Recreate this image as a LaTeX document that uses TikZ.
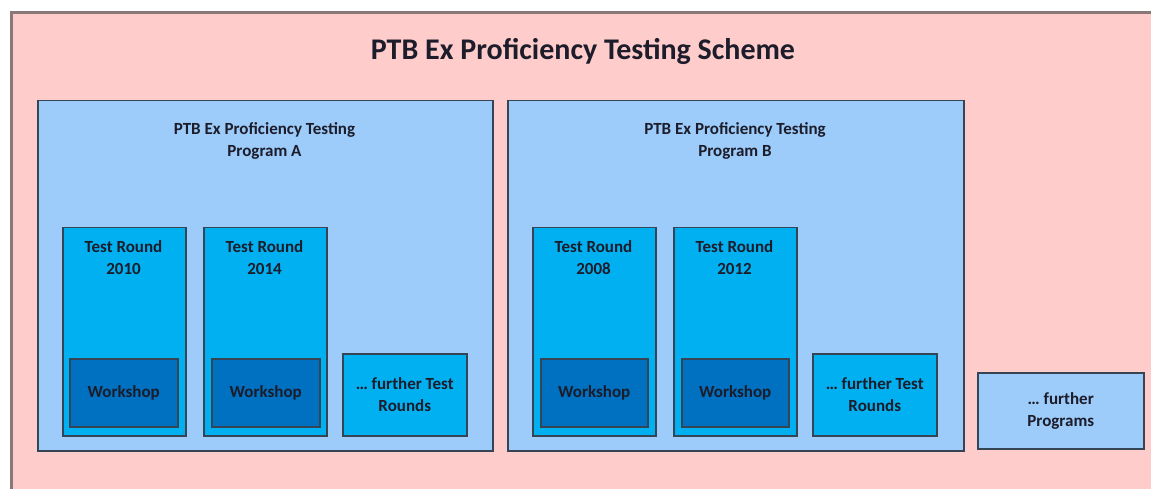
\documentclass[tikz,border=0pt]{standalone}
\usepackage{fontspec}
\setmainfont{Carlito}
\definecolor{bgpink}{HTML}{FFCCCC}
\definecolor{framecol}{HTML}{8A7878}
\definecolor{progblue}{HTML}{9DCCFA}
\definecolor{roundblue}{HTML}{00B0F0}
\definecolor{workblue}{HTML}{0070C0}
\definecolor{edgecol}{HTML}{354555}
\definecolor{txtcol}{HTML}{1C1C2A}
\tikzset{
  box/.style={draw=edgecol, line width=1.5pt, anchor=north west, inner sep=0pt},
  progbox/.style={box, fill=progblue},
  roundbox/.style={box, fill=roundblue},
  workbox/.style={box, fill=workblue},
  lbl/.style={text=txtcol, font=\bfseries\fontsize{17}{21.5}\selectfont, align=center, inner sep=0pt},
}
\begin{document}
\begin{tikzpicture}[x=1pt,y=-1pt]
\useasboundingbox (0,0) rectangle (1151,489);
\clip (0,0) rectangle (1151,489);
\node[draw=framecol, line width=3pt, fill=bgpink, anchor=north west, minimum width=1160pt, minimum height=490pt, inner sep=0pt] (scheme) at (9.5,11) {};
\node[text=txtcol, font=\bfseries\fontsize{30}{36}\selectfont, inner sep=0pt] (title) at (583,51) {PTB Ex Proficiency Testing Scheme};

% Program A
\node[progbox, minimum width=455pt, minimum height=350pt] (progA) at (37,100) {};
\node[lbl] (progAlbl) at (264.5,141) {PTB Ex Proficiency Testing\\Program A};
\node[roundbox, minimum width=123pt, minimum height=208pt] (tr2010) at (62,227) {};
\node[lbl] (tr2010lbl) at (123.5,257.5) {Test Round\\2010};
\node[workbox, minimum width=108pt, minimum height=68pt] (ws2010) at (69,358) {};
\node[lbl] at (ws2010.center) {Workshop};
\node[roundbox, minimum width=123pt, minimum height=208pt] (tr2014) at (203,227) {};
\node[lbl] (tr2014lbl) at (264.5,257.5) {Test Round\\2014};
\node[workbox, minimum width=108pt, minimum height=68pt] (ws2014) at (211,358) {};
\node[lbl] at (ws2014.center) {Workshop};
\node[roundbox, minimum width=124pt, minimum height=82pt] (furtherA) at (342,353) {};
\node[lbl] at (furtherA.center) {\dots\ further Test\\Rounds};

% Program B
\node[progbox, minimum width=456pt, minimum height=350pt] (progB) at (507,100) {};
\node[lbl] (progBlbl) at (735,141) {PTB Ex Proficiency Testing\\Program B};
\node[roundbox, minimum width=123pt, minimum height=208pt] (tr2008) at (532,227) {};
\node[lbl] (tr2008lbl) at (593.5,257.5) {Test Round\\2008};
\node[workbox, minimum width=107pt, minimum height=68pt] (ws2008) at (540,358) {};
\node[lbl] at (ws2008.center) {Workshop};
\node[roundbox, minimum width=123pt, minimum height=208pt] (tr2012) at (673,227) {};
\node[lbl] (tr2012lbl) at (734.5,257.5) {Test Round\\2012};
\node[workbox, minimum width=107pt, minimum height=68pt] (ws2012) at (681,358) {};
\node[lbl] at (ws2012.center) {Workshop};
\node[roundbox, minimum width=124pt, minimum height=82pt] (furtherB) at (812,353) {};
\node[lbl] at (furtherB.center) {\dots\ further Test\\Rounds};

% further programs
\node[progbox, minimum width=166pt, minimum height=76pt] (furtherP) at (977,372) {};
\node[lbl] at (furtherP.center) {\dots\ further\\Programs};
\end{tikzpicture}
\end{document}
